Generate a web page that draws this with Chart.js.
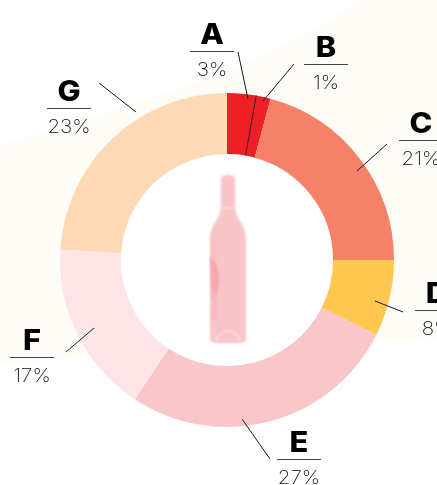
<!DOCTYPE html>
<html>
<head>
<meta charset="utf-8">
<style>
html, body { margin: 0; padding: 0; background: #fff; overflow: hidden; }
canvas { display: block; }
</style>
<script src="https://cdn.jsdelivr.net/npm/chart.js@4"></script>
</head>
<body>
<canvas id="donut" width="437" height="485"></canvas>
<script>
var categories = ["A", "B", "C", "D", "E", "F", "G"];
var shares = [2.8, 1.4, 20.8, 7.4, 26.9, 16.7, 24.0];
var shareLabels = ["3%", "1%", "21%", "8%", "27%", "17%", "23%"];
var sliceColors = ["#ef1f28", "#ec2029", "#f68169", "#fec850", "#f9c7ca", "#fce4e7", "#fdd9b5"];

// letter centre x, letter baseline y, rule half width, leader x1,y1,x2,y2
var callouts = [
    {x: 212, y: 44, w: 22, line: [238, 52, 248, 99]},
    {x: 326, y: 57, w: 22, line: [294, 64, 263, 101]},
    {x: 421, y: 133, w: 22, line: [387, 144, 357, 171]},
    {x: 437, y: 303, w: 22, line: [403, 312, 375, 301]},
    {x: 299, y: 452, w: 22, line: [270, 459, 242, 419]},
    {x: 32, y: 350, w: 22, line: [66, 352, 94, 328]},
    {x: 69, y: 101, w: 22, line: [99, 83, 136, 112]}
];

function wideText(c, text, x, y, sx) {
    c.save();
    c.translate(x, y);
    c.scale(sx, 1);
    c.fillText(text, 0, 0);
    c.restore();
}

var backdrop = {
    id: "backdrop",
    beforeDraw: function (chart) {
        var c = chart.ctx;
        c.save();
        c.fillStyle = "#fefcf7";
        c.beginPath();
        c.moveTo(0, 146);
        c.bezierCurveTo(130, 105, 270, 65, 360, 0);
        c.lineTo(437, 0);
        c.lineTo(437, 338);
        c.lineTo(375, 342);
        c.lineTo(150, 345);
        c.bezierCurveTo(100, 352, 50, 362, 0, 365);
        c.closePath();
        c.fill();
        c.restore();
    },
    beforeDatasetsDraw: function (chart) {
        var c = chart.ctx;
        var arc = chart.getDatasetMeta(0).data[0];
        c.save();
        c.fillStyle = "#fff";
        c.beginPath();
        c.arc(arc.x, arc.y, arc.innerRadius + 1, 0, Math.PI * 2);
        c.fill();
        c.restore();
    }
};

var decorations = {
    id: "decorations",
    afterDraw: function (chart) {
        var c = chart.ctx;
        var arcs = chart.getDatasetMeta(0).data;
        var mid = arcs[0];
        c.save();

        // bottle in the hole
        c.filter = "blur(1.2px)";
        c.fillStyle = "#f8c4c8";
        c.beginPath();
        c.moveTo(221, 177);
        c.quadraticCurveTo(228, 172, 235, 177);
        c.lineTo(235, 207);
        c.bezierCurveTo(236, 220, 246, 224, 246, 240);
        c.lineTo(246, 338);
        c.quadraticCurveTo(246, 343, 240, 343);
        c.lineTo(216, 343);
        c.quadraticCurveTo(210, 343, 210, 338);
        c.lineTo(210, 240);
        c.bezierCurveTo(210, 224, 220, 220, 221, 207);
        c.closePath();
        c.fill();
        c.fillStyle = "#f6b9be";
        c.beginPath();
        c.moveTo(212, 232);
        c.bezierCurveTo(217, 255, 217, 295, 217, 320);
        c.lineTo(212, 320);
        c.closePath();
        c.fill();
        c.fillStyle = "#f4a9ae";
        c.beginPath();
        c.moveTo(210, 256);
        c.bezierCurveTo(221, 268, 222, 288, 212, 299);
        c.closePath();
        c.fill();
        c.strokeStyle = "#fce4e6";
        c.lineWidth = 1.5;
        c.beginPath();
        c.moveTo(221, 208);
        c.lineTo(235, 208);
        c.moveTo(215, 341);
        c.quadraticCurveTo(228, 320, 241, 341);
        c.stroke();
        c.filter = "none";

        // boundary line between A and B
        var a = mid.endAngle;
        c.strokeStyle = "#3a1a1a";
        c.lineWidth = 1;
        c.beginPath();
        c.moveTo(mid.x + Math.cos(a) * mid.innerRadius, mid.y + Math.sin(a) * mid.innerRadius);
        c.lineTo(mid.x + Math.cos(a) * mid.outerRadius, mid.y + Math.sin(a) * mid.outerRadius);
        c.stroke();

        c.textAlign = "center";
        c.textBaseline = "alphabetic";
        callouts.forEach(function (o, i) {
            c.strokeStyle = "#1a1a1a";
            c.lineWidth = 1;
            c.beginPath();
            c.moveTo(o.line[0], o.line[1]);
            c.lineTo(o.line[2], o.line[3]);
            c.stroke();

            c.strokeStyle = "#444";
            c.beginPath();
            c.moveTo(o.x - o.w, o.y + 7.5);
            c.lineTo(o.x + o.w, o.y + 7.5);
            c.stroke();

            c.fillStyle = "#000";
            c.font = "800 28px Inter, sans-serif";
            wideText(c, categories[i], o.x, o.y, 1.1);

            c.fillStyle = "#111";
            c.font = "200 19px Inter, sans-serif";
            wideText(c, shareLabels[i], o.x, o.y + 32, 1.08);
        });
        c.restore();
    }
};

new Chart(document.getElementById("donut").getContext("2d"), {
    type: "doughnut",
    data: {
        labels: categories,
        datasets: [{data: shares, backgroundColor: sliceColors, borderWidth: 0}]
    },
    options: {
        responsive: false,
        animation: false,
        cutout: "63.5%",
        layout: {padding: {left: 60, right: 43, top: 93, bottom: 58}},
        plugins: {legend: {display: false}, tooltip: {enabled: false}}
    },
    plugins: [backdrop, decorations]
});
</script>
</body>
</html>
